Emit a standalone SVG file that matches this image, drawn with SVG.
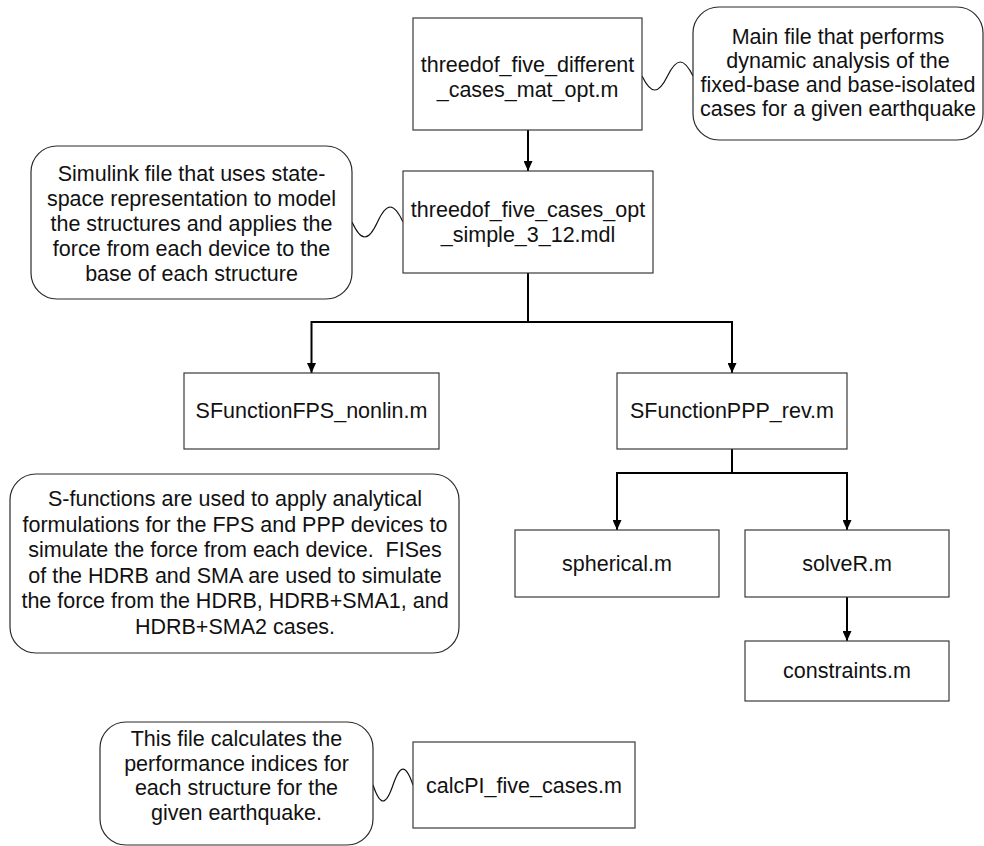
<svg xmlns="http://www.w3.org/2000/svg" width="984" height="846" viewBox="0 0 984 846">
  <style>
    .box { fill: #ffffff; stroke: #3a3a3a; stroke-width: 1.2; }
    .note { fill: #ffffff; stroke: #2a2a2a; stroke-width: 1.2; }
    .t { font-family: "Liberation Sans", Arial, sans-serif; font-size: 21.5px; fill: #111111; text-anchor: middle; }
    .flow { fill: none; stroke: #000000; stroke-width: 2; }
    .wave { fill: none; stroke: #111111; stroke-width: 1.2; }
  </style>
  <defs>
    <marker id="arrow" markerUnits="userSpaceOnUse" markerWidth="10" markerHeight="9" refX="10" refY="4.5" orient="auto">
      <path d="M0,0 L10,4.5 L0,9 Z" fill="#000000"/>
    </marker>
  </defs>

  <rect width="984" height="846" fill="#ffffff"/>

  <!-- connectors -->
  <g id="connectors">
    <path class="flow" d="M528,130 L528,171" marker-end="url(#arrow)"/>
    <path class="flow" d="M528,273 L528,322 M311.5,322 L732,322"/>
    <path class="flow" d="M311.5,321 L311.5,373" marker-end="url(#arrow)"/>
    <path class="flow" d="M732,321 L732,373" marker-end="url(#arrow)"/>
    <path class="flow" d="M732,449 L732,473 M617,473 L847,473"/>
    <path class="flow" d="M617,472 L617,530" marker-end="url(#arrow)"/>
    <path class="flow" d="M847,472 L847,530" marker-end="url(#arrow)"/>
    <path class="flow" d="M847,597 L847,641" marker-end="url(#arrow)"/>
    <!-- wavy links between notes and files -->
    <path class="wave" d="M642,76 C651.2,94.7 658.3,94.7 667.5,76 C676.7,57.3 683.8,57.3 693,76"/>
    <path class="wave" d="M352,222 C361.2,242 368.3,242 377.5,222 C386.7,202 393.8,202 403,222"/>
    <path class="wave" d="M373,785 C380.2,806.3 385.8,806.3 393,785 C400.2,763.7 405.8,763.7 413,785"/>
  </g>

  <g id="main-file">
    <rect class="box" x="413" y="18" width="229" height="112"/>
    <text class="t" x="527.5" y="72">threedof_five_different</text>
    <text class="t" x="527.5" y="97">_cases_mat_opt.m</text>
  </g>

  <g id="main-note">
    <rect class="note" x="693" y="7" width="290" height="133" rx="26" ry="26"/>
    <text class="t" x="838" y="43.5">Main file that performs</text>
    <text class="t" x="838" y="67.5">dynamic analysis of the</text>
    <text class="t" x="838" y="91.5">fixed-base and base-isolated</text>
    <text class="t" x="838" y="115.5">cases for a given earthquake</text>
  </g>

  <g id="simulink-model">
    <rect class="box" x="403" y="171" width="250" height="102"/>
    <text class="t" x="528" y="217">threedof_five_cases_opt</text>
    <text class="t" x="528" y="242">_simple_3_12.mdl</text>
  </g>

  <g id="simulink-note">
    <rect class="note" x="31" y="146" width="321" height="153" rx="26" ry="26"/>
    <text class="t" x="191.5" y="180.7">Simulink file that uses state-</text>
    <text class="t" x="191.5" y="205.7">space representation to model</text>
    <text class="t" x="191.5" y="230.7">the structures and applies the</text>
    <text class="t" x="191.5" y="255.7">force from each device to the</text>
    <text class="t" x="191.5" y="280.7">base of each structure</text>
  </g>

  <g id="sfunction-fps">
    <rect class="box" x="184" y="373" width="255" height="76"/>
    <text class="t" x="311.5" y="418">SFunctionFPS_nonlin.m</text>
  </g>

  <g id="sfunction-ppp">
    <rect class="box" x="617" y="373" width="230" height="76"/>
    <text class="t" x="732" y="418">SFunctionPPP_rev.m</text>
  </g>

  <g id="sfunction-note">
    <rect class="note" x="10" y="474" width="449" height="179" rx="26" ry="26"/>
    <text class="t" x="235" y="506">S-functions are used to apply analytical</text>
    <text class="t" x="235" y="531.5">formulations for the FPS and PPP devices to</text>
    <text class="t" x="235" y="557">simulate the force from each device.&#160; FISes</text>
    <text class="t" x="235" y="582.5">of the HDRB and SMA are used to simulate</text>
    <text class="t" x="235" y="608">the force from the HDRB, HDRB+SMA1, and</text>
    <text class="t" x="235" y="633.5">HDRB+SMA2 cases.</text>
  </g>

  <g id="spherical">
    <rect class="box" x="515" y="530" width="204" height="67"/>
    <text class="t" x="617" y="571">spherical.m</text>
  </g>

  <g id="solve-r">
    <rect class="box" x="745" y="530" width="204" height="67"/>
    <text class="t" x="847" y="571">solveR.m</text>
  </g>

  <g id="constraints">
    <rect class="box" x="745" y="641" width="204" height="60"/>
    <text class="t" x="847" y="678">constraints.m</text>
  </g>

  <g id="calc-pi">
    <rect class="box" x="413" y="742" width="222" height="86"/>
    <text class="t" x="524" y="792.5">calcPI_five_cases.m</text>
  </g>

  <g id="calc-pi-note">
    <rect class="note" x="100" y="722" width="273" height="123" rx="26" ry="26"/>
    <text class="t" x="236.5" y="746">This file calculates the</text>
    <text class="t" x="236.5" y="770.5">performance indices for</text>
    <text class="t" x="236.5" y="795">each structure for the</text>
    <text class="t" x="236.5" y="819.5">given earthquake.</text>
  </g>
</svg>
